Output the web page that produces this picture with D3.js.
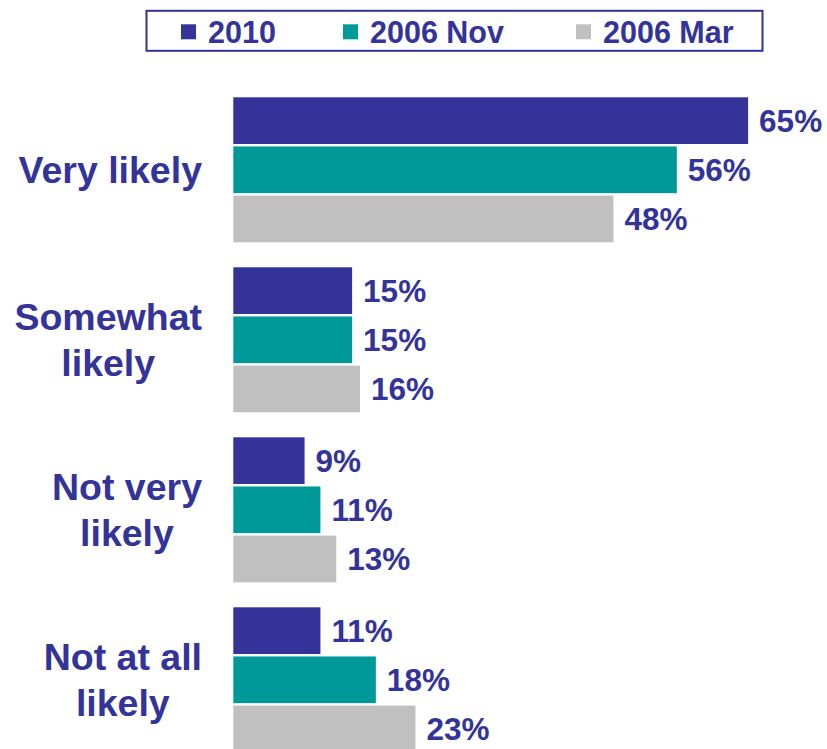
<!DOCTYPE html>
<html>
<head>
<meta charset="utf-8">
<script src="https://cdn.jsdelivr.net/npm/d3@7"></script>
<style>
  html, body { margin: 0; padding: 0; background: #ffffff; }
  svg { display: block; }
  text { font-family: "Liberation Sans", Arial, Helvetica, sans-serif; font-weight: bold; }
</style>
</head>
<body>
<svg id="chart" width="827" height="749"></svg>
<script>
// Likelihood categories (each label may wrap over two lines)
const categories = ["Very likely", "Somewhat likely", "Not very likely", "Not at all likely"];
const categoryLines = [["Very likely"], ["Somewhat", "likely"], ["Not very", "likely"], ["Not at all", "likely"]];

// Survey waves, in drawing order within each group
const series = ["2010", "2006 Nov", "2006 Mar"];
const seriesColors = ["#333399", "#009999", "#C0C0C0"];

// Percentages per wave, one value per category
const values2010 = [65, 15, 9, 11];
const valuesNov2006 = [56, 15, 11, 18];
const valuesMar2006 = [48, 16, 13, 23];

const seriesValues = [values2010, valuesNov2006, valuesMar2006];
const textColor = "#333399";

const svg = d3.select("#chart");

// Scales
const x = d3.scaleLinear().domain([0, 100]).range([233.3, 233.3 + 792]);

const y = d3.scaleBand()
  .domain(categories)
  .range([97.3, 752.3])
  .paddingInner(25 / 170)
  .paddingOuter(0);

const yInner = d3.scaleBand()
  .domain(series)
  .range([0, y.bandwidth()])
  .paddingInner(0.05)
  .paddingOuter(0);

const color = d3.scaleOrdinal().domain(series).range(seriesColors);

// Flatten into one record per bar
const rows = [];
categories.forEach((c, ci) => {
  series.forEach((s, si) => {
    rows.push({ category: c, series: s, value: seriesValues[si][ci] });
  });
});

// Bars
svg.append("g").attr("class", "bars")
  .selectAll("rect")
  .data(rows)
  .join("rect")
  .attr("x", x(0))
  .attr("y", d => y(d.category) + yInner(d.series))
  .attr("width", d => x(d.value) - x(0))
  .attr("height", yInner.bandwidth())
  .attr("fill", d => color(d.series));

// Value labels
svg.append("g").attr("class", "values")
  .selectAll("text")
  .data(rows)
  .join("text")
  .attr("x", d => x(d.value) + 11)
  .attr("y", d => y(d.category) + yInner(d.series) + yInner.bandwidth() / 2 + 11)
  .attr("fill", textColor)
  .attr("font-size", 31.5)
  .text(d => d.value + "%");

// Category labels: each block ends at the right margin, its lines centred within it
const labelRight = 202;
const lineH = 46;
const catLabels = svg.append("g").attr("class", "categories")
  .selectAll("text")
  .data(categories)
  .join("text")
  .attr("text-anchor", "middle")
  .attr("fill", textColor)
  .attr("font-size", 37.5);

catLabels.each(function (c, i) {
  const lines = categoryLines[i];
  const mid = y(c) + y.bandwidth() / 2;
  const firstBaseline = mid + 13.5 - (lines.length - 1) * lineH / 2;
  const spans = d3.select(this).selectAll("tspan")
    .data(lines)
    .join("tspan")
    .attr("y", (d, j) => firstBaseline + j * lineH)
    .text(d => d);
  let widest = 0;
  spans.each(function () { widest = Math.max(widest, this.getComputedTextLength()); });
  spans.attr("x", labelRight - widest / 2);
});

// Legend
const legend = svg.append("g").attr("class", "legend");
legend.append("rect")
  .attr("x", 146.5).attr("y", 10.8)
  .attr("width", 616).attr("height", 40)
  .attr("fill", "#ffffff")
  .attr("stroke", textColor)
  .attr("stroke-width", 2);

const legendSquareX = [181, 343, 576];
const legendItems = legend.selectAll("g.item")
  .data(series)
  .join("g")
  .attr("class", "item")
  .attr("transform", (d, i) => `translate(${legendSquareX[i]},0)`);

legendItems.append("rect")
  .attr("x", 0).attr("y", 24.3)
  .attr("width", 15).attr("height", 15)
  .attr("fill", d => color(d));

legendItems.append("text")
  .attr("x", 27)
  .attr("y", 42.5)
  .attr("fill", textColor)
  .attr("font-size", 30.5)
  .text(d => d);
</script>
</body>
</html>
